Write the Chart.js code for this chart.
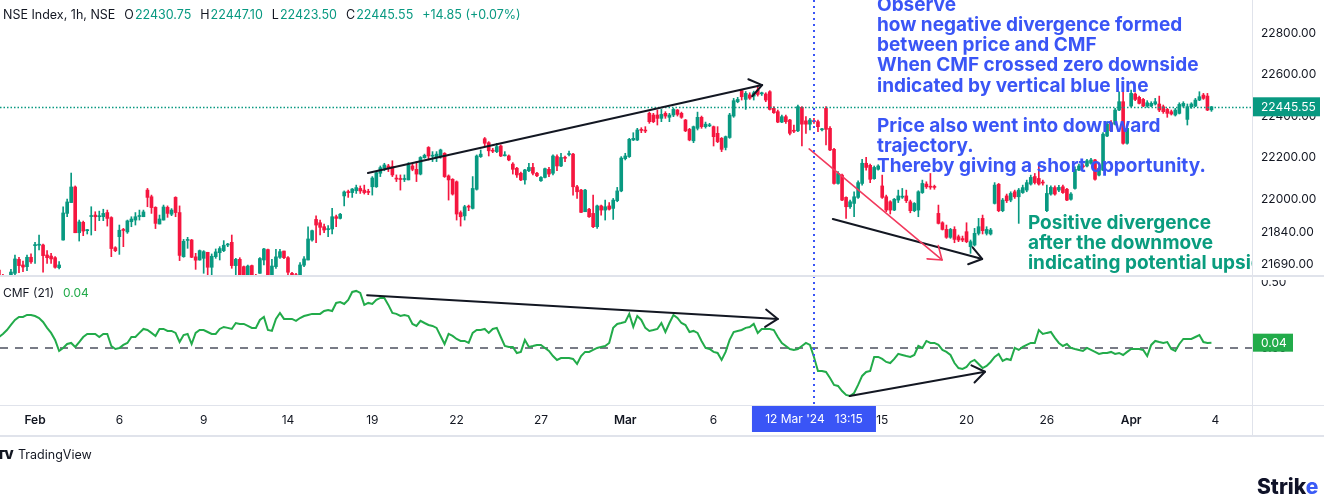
<!DOCTYPE html>
<html><head><meta charset="utf-8">
<script src="https://cdn.jsdelivr.net/npm/chart.js@4.4.1/dist/chart.umd.min.js"></script>
<style>
html,body{margin:0;padding:0;background:#fff;}
#wrap{position:relative;width:1324px;height:499px;overflow:hidden;font-family:Inter,Roboto,"DejaVu Sans",sans-serif;color:#131722;}
canvas{position:absolute;left:0;top:0;}
.t{position:absolute;font-size:12px;line-height:16px;white-space:pre;}
.g{color:#089981}
.cg{color:#22ab4a}
.hdr{font-size:12.5px}
.hdr span{margin-left:9px}
.hdr span.v{margin-left:1px}
</style></head>
<body><div id="wrap"><canvas id="c" width="1324" height="499"></canvas>
<div class="t hdr" style="left:3px;top:7px">NSE Index, 1h, NSE<span style="margin-left:9px">O</span><span class="v g">22430.75</span><span>H</span><span class="v g">22447.10</span><span>L</span><span class="v g">22423.50</span><span>C</span><span class="v g">22445.55</span><span class="g">+14.85 (+0.07%)</span></div>
<div class="t" style="left:3px;top:285px">CMF (21)<span class="cg" style="margin-left:9px">0.04</span></div>
<span class="t" style="left:-3px;top:447px;font-weight:900;font-size:12px;letter-spacing:-1px">TV</span>
<span class="t" style="left:18px;top:447px;font-size:12.5px">TradingView</span>
<span class="t" style="left:1257px;top:475px;font-size:21px;line-height:24px;font-weight:800;color:#0f1228">Strik<span style="color:#3b5bf6">e</span></span>
</div>
<script>
// ---------- data (hourly candles, Jan 30 – Apr 4 2024) ----------
const opens = [
21661,21632,21610,21632,21645,21712,21685,21677,21722,21778,
21780,21781,21733,21728,21720,21672,21805,21933,21985,22060,
21840,21890,21850,21918,21925,21917,21917,21937,21913,21768,
21821,21855,21844,21893,21901,21918,21917,22045,22013,21962,
21882,21901,21962,21929,22010,21937,21725,21803,21805,21724,
21709,21717,21746,21674,21725,21744,21754,21781,21794,21682,
21712,21677,21632,21682,21632,21645,21709,21759,21637,21677,
21722,21752,21720,21645,21638,21632,21684,21709,21805,21904,
21888,21869,21855,21858,21917,21909,22017,22036,22033,22042,
22053,22045,22037,22061,22061,22126,22150,22161,22158,22101,
22100,22096,22094,22161,22145,22122,22201,22250,22208,22202,
22206,22222,22113,22097,22085,21937,21921,21967,21957,22049,
22206,22292,22273,22236,22230,22257,22210,22209,22170,22150,
22126,22094,22138,22154,22126,22090,22106,22145,22126,22206,
22161,22201,22216,22218,22061,22045,21941,21953,21933,21869,
21969,21949,21969,21957,21994,22041,22196,22206,22286,22286,
22336,22333,22414,22406,22406,22390,22414,22395,22406,22430,
22414,22382,22337,22282,22342,22395,22350,22354,22350,22318,
22294,22250,22298,22401,22470,22523,22481,22503,22497,22526,
22508,22507,22518,22438,22422,22372,22398,22382,22332,22330,
22443,22378,22362,22379,22374,22335,22438,22342,22241,22077,
22117,22010,21965,21981,22010,22077,22174,22164,22100,22145,
22065,22013,21989,21949,21997,22011,22017,21989,21946,21949,
22033,22074,22063,22062,21933,21888,21856,21818,21856,21821,
21812,21845,21773,21781,21837,21909,21837,21834,21981,22073,
21946,22017,21997,22037,22013,22033,22045,22074,22110,22101,
22083,21946,22026,22057,22045,22061,22049,22001,22053,22141,
22160,22161,22174,22190,22117,22141,22305,22369,22362,22430,
22470,22270,22449,22507,22491,22481,22449,22449,22459,22459,
22446,22433,22422,22406,22414,22449,22385,22446,22449,22478,
22502,22497,22430.75];
const highs = [
21665,21640,21635,21664,21733,21722,21704,21733,21738,21794,
21829,21786,21754,21741,21725,21701,21964,22002,22127,22065,
21901,21896,21856,21965,21941,21944,21953,21949,21917,21773,
21877,21861,21901,21917,21937,21949,21949,22053,22021,21965,
21925,21973,21969,21956,22013,21969,21808,21818,21808,21741,
21757,21754,21746,21738,21762,21773,21802,21789,21829,21717,
21720,21680,21685,21685,21640,21720,21765,21762,21712,21760,
21760,21752,21725,21650,21645,21696,21725,21869,21853,21921,
21901,21882,21874,21957,21925,21933,22041,22045,22053,22069,
22065,22069,22049,22110,22134,22161,22174,22169,22186,22118,
22118,22118,22177,22169,22182,22206,22218,22254,22230,22230,
22242,22225,22118,22100,22089,21945,21972,21973,22110,22214,
22238,22298,22278,22246,22270,22262,22230,22214,22177,22154,
22132,22145,22174,22174,22130,22110,22151,22154,22214,22215,
22222,22209,22233,22222,22068,22049,22049,21957,22021,21973,
21973,21997,21985,22005,22058,22206,22222,22294,22321,22342,
22345,22350,22420,22414,22430,22433,22422,22414,22438,22433,
22420,22385,22342,22353,22420,22401,22372,22366,22353,22350,
22298,22305,22414,22486,22491,22529,22519,22513,22521,22542,
22516,22513,22523,22446,22430,22406,22406,22385,22358,22454,
22446,22398,22390,22390,22382,22342,22446,22350,22246,22134,
22122,22013,21997,22037,22090,22193,22202,22170,22161,22167,
22117,22021,21994,22005,22045,22053,22045,21997,21985,22042,
22093,22085,22125,22069,21973,21893,21877,21861,21869,21829,
21824,21888,21805,21861,21909,21925,21869,21861,22081,22077,
22005,22026,22037,22045,22053,22069,22093,22117,22125,22174,
22093,22069,22065,22065,22068,22069,22053,22033,22157,22170,
22170,22193,22198,22193,22157,22321,22374,22379,22438,22518,
22518,22350,22526,22513,22497,22486,22475,22470,22486,22497,
22454,22438,22430,22438,22465,22470,22459,22465,22486,22518,
22510,22510,22447.10];
const lows = [
21620,21600,21595,21620,21637,21648,21653,21658,21693,21693,
21757,21651,21693,21693,21670,21666,21804,21917,21985,21840,
21800,21826,21834,21829,21850,21898,21898,21872,21725,21749,
21736,21773,21837,21869,21877,21901,21917,21965,21933,21860,
21882,21901,21914,21922,21917,21706,21722,21765,21720,21664,
21708,21645,21634,21637,21717,21709,21749,21773,21669,21632,
21620,21615,21615,21615,21600,21645,21685,21635,21635,21669,
21717,21715,21620,21610,21600,21615,21677,21709,21799,21792,
21829,21840,21821,21834,21869,21906,21969,22010,22010,22029,
22029,22026,22023,22021,22058,22110,22138,22134,22110,22086,
22045,22086,22094,22138,22086,22118,22198,22190,22182,22182,
22198,22106,21997,22021,21901,21872,21901,21946,21954,22045,
22202,22257,22209,22225,22225,22206,22209,22186,22122,22106,
22090,22074,22134,22118,22110,22087,22103,22110,22118,22138,
22158,22182,22209,22021,22005,21937,21941,21914,21864,21861,
21925,21901,21949,21904,21989,22037,22190,22202,22283,22283,
22321,22321,22366,22369,22358,22374,22390,22374,22398,22401,
22390,22326,22282,22273,22334,22342,22343,22350,22257,22273,
22230,22238,22294,22395,22465,22478,22433,22481,22478,22497,
22500,22470,22430,22414,22369,22369,22366,22310,22321,22326,
22257,22318,22334,22366,22326,22330,22262,22234,22074,22074,
21994,21909,21957,21917,22005,22069,22141,22081,22097,22141,
22005,21941,21930,21946,21985,22005,21985,21936,21941,21917,
22029,22053,22049,22049,21882,21853,21813,21813,21792,21797,
21797,21792,21741,21776,21829,21834,21829,21829,21978,21941,
21941,21985,21989,22005,21885,22029,22037,22069,22074,22069,
22069,21941,22021,22021,22037,22029,21994,21997,22049,22138,
22150,22157,22170,22093,22113,22138,22302,22326,22358,22427,
22266,22266,22446,22475,22459,22446,22443,22446,22454,22422,
22414,22395,22406,22401,22411,22443,22358,22438,22446,22475,
22481,22427,22423.50];
const closes = [
21632,21610,21625,21651,21714,21682,21675,21722,21700,21783,
21783,21730,21720,21714,21674,21685,21935,21988,22060,21840,
21892,21848,21854,21921,21917,21921,21933,21909,21764,21754,
21852,21851,21897,21906,21917,21921,21940,22010,21961,21885,
21906,21964,21933,21949,21937,21731,21799,21806,21722,21708,
21754,21749,21674,21727,21748,21764,21780,21784,21682,21712,
21629,21629,21680,21632,21620,21716,21762,21637,21680,21724,
21749,21720,21650,21638,21615,21685,21714,21810,21850,21877,
21866,21853,21858,21917,21909,21929,22036,22033,22050,22057,
22041,22033,22034,22103,22129,22153,22166,22153,22118,22098,
22096,22099,22166,22145,22122,22202,22212,22209,22211,22218,
22238,22110,22094,22026,21930,21917,21965,21963,22053,22209,
22218,22270,22234,22232,22254,22209,22214,22190,22145,22118,
22094,22142,22154,22126,22114,22106,22148,22122,22209,22161,
22202,22198,22219,22061,22037,21938,22045,21917,21869,21969,
21949,21965,21953,21997,22041,22199,22209,22289,22294,22334,
22332,22329,22374,22374,22390,22409,22401,22406,22433,22409,
22395,22330,22286,22350,22395,22350,22362,22357,22302,22278,
22241,22302,22406,22475,22481,22494,22510,22487,22513,22505,
22511,22478,22433,22417,22372,22398,22374,22318,22328,22446,
22362,22362,22382,22374,22350,22338,22337,22238,22077,22125,
21997,21965,21989,22013,22081,22174,22154,22097,22154,22161,
22010,21949,21949,22001,22017,22014,21994,21946,21981,22037,
22077,22061,22059,22058,21885,21856,21818,21856,21808,21805,
21805,21797,21797,21837,21869,21850,21856,21853,22069,21946,
21997,21994,22029,22013,22045,22057,22081,22106,22081,22074,
22079,22029,22058,22026,22058,22033,21997,22026,22145,22161,
22157,22186,22190,22097,22150,22314,22362,22330,22430,22470,
22270,22342,22510,22481,22462,22449,22465,22462,22470,22430,
22422,22414,22411,22430,22457,22462,22446,22459,22478,22494,
22486,22430,22445.55];
const cmf = [
.083,.106,.136,.174,.212,.235,.235,.25,.25,.242,
.227,.197,.152,.114,.061,-.023,0,.03,.038,.008,
.045,.083,.106,.106,.106,.083,.106,.106,.015,-.008,
0,.023,.038,.083,.083,.114,.144,.136,.114,.091,
.144,.144,.129,.129,.114,.045,.098,.106,.03,.114,
.136,.136,.121,.106,.106,.144,.159,.152,.144,.189,
.182,.182,.167,.152,.152,.212,.235,.136,.129,.22,
.265,.22,.22,.22,.205,.227,.242,.25,.258,.258,
.258,.28,.288,.28,.341,.348,.333,.364,.424,.432,
.417,.326,.341,.333,.364,.379,.379,.326,.265,.258,
.242,.25,.242,.182,.167,.205,.189,.174,.167,.152,
.091,.03,.106,.091,.068,.053,.053,.038,.114,.136,
.136,.144,.114,.144,.152,.083,.015,.008,.008,-.038,
-.03,.061,.008,.015,.023,.023,0,-.023,-.061,-.091,
-.076,-.076,-.076,-.083,-.121,-.061,-.03,-.03,-.015,0,
.008,.015,.038,.152,.182,.189,.197,.258,.159,.242,
.212,.152,.129,.136,.144,.189,.121,.189,.25,.227,
.189,.174,.121,.129,.114,.053,0,-.008,-.03,-.038,
-.091,-.03,.061,.121,.129,.136,.152,.159,.182,.114,
.144,.144,.144,.136,.083,.038,.015,-.008,-.015,-.008,
.015,.038,.023,-.068,-.174,-.174,-.182,-.227,-.28,-.288,
-.326,-.356,-.364,-.341,-.28,-.212,-.182,-.174,-.068,-.068,
-.083,-.106,-.114,-.083,-.045,-.053,-.061,-.068,-.053,.015,
0,.053,.038,.038,.023,-.015,-.03,-.053,-.114,-.152,
-.159,-.144,-.106,-.091,-.121,-.152,-.136,-.106,-.068,-.045,
-.098,-.083,-.091,0,-.015,.008,.023,.038,.038,.136,
.106,.114,.121,.076,.038,.015,.03,0,-.008,-.015,
-.023,0,-.015,-.03,-.045,-.038,-.038,-.03,-.045,-.038,
-.053,-.03,-.008,-.008,-.008,-.015,-.061,.023,.053,.045,
.038,.045,-.008,-.023,.03,.068,.068,.068,.083,.098,
.045,.038,.04];
const tickPositions = [9,30,51,72,93,114,135,156,178,220,241,261,282,303];
const tickLabels = ['Feb','6','9','14','19','22','27','Mar','6','15','20','26','Apr','4'];
const monthLabels = ['Feb','Mar','Apr'];
const priceTicks = [21690,21840,22000,22200,22400,22600,22800];
const cmfTicks = [0.5, 0];
const lastPrice = 22445.55;
const lastCmf = 0.04;
const crossIndex = 203;
const crossLabel = "12 Mar '24   13:15";
// annotations in data coordinates: [candle index, value]
const priceArrows = [
  {from:[91.9,22127], to:[190.1,22550], color:'#131722'},
  {from:[207.7,21906], to:[244.9,21714], color:'#131722'},
  {from:[201.8,22243], to:[234.9,21709], color:'#f23a5e'}
];
const cmfArrows = [
  {from:[91.7,0.40], to:[194,0.22], color:'#131722'},
  {from:[211.9,-0.364], to:[245.6,-0.18], color:'#131722'}
];
const noteBlue = ["Observe","how negative divergence formed","between price and CMF","When CMF crossed zero downside","indicated by vertical blue line","","Price also went into downward","trajectory.","Thereby giving a short opportunity."];
const noteBlueAt = [218.7, 22932];
const noteGreen = ["Positive divergence","after the downmove","indicating potential upside"];
const noteGreenAt = [256.3, 21887];

// ---------- chart ----------
const UP = '#089981', DOWN = '#f5163f', CMFC = '#22ab4a', BLUE = '#3a55f6';
const FONT = 'Inter, Roboto, "DejaVu Sans", sans-serif';
const idx = closes.map((_, i) => i);
const colors = idx.map(i => closes[i] >= opens[i] ? UP : DOWN);

function arrow(ctx, x1, y1, x2, y2, color, w) {
  ctx.strokeStyle = color; ctx.lineWidth = w; ctx.lineCap = 'round'; ctx.lineJoin = 'round';
  ctx.beginPath(); ctx.moveTo(x1, y1); ctx.lineTo(x2, y2); ctx.stroke();
  const a = Math.atan2(y2 - y1, x2 - x1), L = 15, s = 0.62;
  ctx.beginPath();
  ctx.moveTo(x2 - L * Math.cos(a - s), y2 - L * Math.sin(a - s));
  ctx.lineTo(x2, y2);
  ctx.lineTo(x2 - L * Math.cos(a + s), y2 - L * Math.sin(a + s));
  ctx.stroke();
}
function clipTo(ctx, l, t, r, b) { ctx.save(); ctx.beginPath(); ctx.rect(l, t, r - l, b - t); ctx.clip(); }
function noPad(s) { s.paddingTop = 0; s.paddingBottom = 0; s.paddingLeft = 0; s.paddingRight = 0; }

const overlay = {
  id: 'overlay',
  beforeDatasetDraw(chart, args) {
    const ys = chart.scales[args.meta.yAxisID], a = chart.chartArea;
    clipTo(chart.ctx, a.left, ys.top, a.right, ys.bottom);
  },
  afterDatasetDraw(chart) { chart.ctx.restore(); },
  beforeDatasetsDraw(chart) {
    const {ctx, chartArea: a, scales: {y2}} = chart;
    ctx.save();
    ctx.strokeStyle = '#787b86'; ctx.lineWidth = 2; ctx.setLineDash([8, 7]);
    const zy = Math.round(y2.getPixelForValue(0));
    ctx.beginPath(); ctx.moveTo(a.left, zy); ctx.lineTo(a.right, zy); ctx.stroke();
    ctx.restore();
  },
  afterDatasetsDraw(chart) {
    const {ctx, chartArea: a, scales: {x, y, y2}} = chart;
    // price panel overlays
    clipTo(ctx, a.left, y.top, a.right, y.bottom);
    const ly = Math.round(y.getPixelForValue(lastPrice)) + 0.5;
    ctx.strokeStyle = UP; ctx.lineWidth = 1.3; ctx.setLineDash([1.5, 2]);
    ctx.beginPath(); ctx.moveTo(a.left, ly); ctx.lineTo(a.right, ly); ctx.stroke();
    ctx.setLineDash([]);
    priceArrows.forEach(p => arrow(ctx, x.getPixelForValue(p.from[0]), y.getPixelForValue(p.from[1]),
      x.getPixelForValue(p.to[0]), y.getPixelForValue(p.to[1]), p.color, p.color === '#131722' ? 2 : 1.6));
    ctx.font = '700 19px ' + FONT; ctx.textBaseline = 'middle'; ctx.textAlign = 'left';
    ctx.fillStyle = BLUE;
    let bx = x.getPixelForValue(noteBlueAt[0]), by = y.getPixelForValue(noteBlueAt[1]);
    noteBlue.forEach((s, k) => ctx.fillText(s, bx, by + k * 20.05));
    ctx.fillStyle = '#0a9c7e';
    let gx = x.getPixelForValue(noteGreenAt[0]), gy = y.getPixelForValue(noteGreenAt[1]);
    noteGreen.forEach((s, k) => ctx.fillText(s, gx, gy + k * 20));
    ctx.restore();
    // cmf panel arrows
    clipTo(ctx, a.left, y2.top, a.right, y2.bottom);
    cmfArrows.forEach(p => arrow(ctx, x.getPixelForValue(p.from[0]), y2.getPixelForValue(p.from[1]),
      x.getPixelForValue(p.to[0]), y2.getPixelForValue(p.to[1]), p.color, 2));
    ctx.restore();
    // vertical blue dotted line
    ctx.save();
    const vx = Math.round(x.getPixelForValue(crossIndex));
    ctx.strokeStyle = BLUE; ctx.lineWidth = 2; ctx.setLineDash([2, 4]);
    ctx.beginPath(); ctx.moveTo(vx, a.top); ctx.lineTo(vx, a.bottom); ctx.stroke();
    ctx.restore();
  },
  afterDraw(chart) {
    const {ctx, chartArea: a, scales: {x, y, y2}} = chart;
    ctx.save();
    // mask top of cmf axis label (clipped by the pane edge)
    ctx.fillStyle = '#fff'; ctx.fillRect(a.right + 1, Math.round(y.bottom) - 5, 80, 9);
    // separators
    ctx.fillStyle = '#e0e3eb';
    ctx.fillRect(0, Math.round(y.bottom) - 1, chart.width, 2);
    ctx.fillRect(0, Math.round(x.top), chart.width, 1);
    ctx.fillRect(0, Math.round(x.bottom), chart.width, 2);
    ctx.fillRect(Math.round(a.right), 0, 1, Math.round(x.bottom));
    // last price tag
    const ly = y.getPixelForValue(lastPrice);
    ctx.fillStyle = UP; ctx.fillRect(a.right + 1, ly - 9.5, 67, 19);
    ctx.fillStyle = '#fff'; ctx.font = '12px ' + FONT; ctx.textBaseline = 'middle'; ctx.textAlign = 'left';
    ctx.fillText(lastPrice.toFixed(2), a.right + 9, ly + 0.5);
    // cmf tag
    const cy = y2.getPixelForValue(lastCmf);
    ctx.fillStyle = CMFC; ctx.fillRect(a.right + 1, cy - 9, 40, 18);
    ctx.fillStyle = '#fff'; ctx.fillText(lastCmf.toFixed(2), a.right + 9, cy + 0.5);
    // date label on time axis
    const vx = x.getPixelForValue(crossIndex);
    ctx.fillStyle = BLUE; ctx.fillRect(vx - 62, x.top + 1, 124, 26);
    ctx.fillStyle = '#fff'; ctx.textAlign = 'center';
    ctx.fillText(crossLabel, vx, x.top + 14.5);
    ctx.restore();
  }
};

new Chart(document.getElementById('c'), {
  type: 'bar',
  data: {
    datasets: [
      {type: 'bar', label: 'wick', data: idx.map(i => ({x: i, y: [lows[i], highs[i]]})),
       backgroundColor: colors, barThickness: 1, grouped: false, yAxisID: 'y', xAxisID: 'x', order: 2},
      {type: 'bar', label: 'body', data: idx.map(i => ({x: i, y: [opens[i], closes[i]]})),
       backgroundColor: colors, barThickness: 3, minBarLength: 1, grouped: false, yAxisID: 'y', xAxisID: 'x', order: 1},
      {type: 'line', label: 'CMF', data: idx.map(i => ({x: i, y: cmf[i]})),
       borderColor: CMFC, borderWidth: 2, pointRadius: 0, tension: 0, yAxisID: 'y2', xAxisID: 'x', order: 0}
    ]
  },
  options: {
    responsive: false, animation: false, devicePixelRatio: 1,
    layout: {padding: {left: 0, right: 0, top: 0, bottom: 64}},
    plugins: {legend: {display: false}, tooltip: {enabled: false}},
    scales: {
      x: {
        type: 'linear', position: 'bottom', min: 0.274, max: 312.1, offset: false,
        grid: {display: false, drawTicks: false}, border: {display: false},
        afterBuildTicks: s => { s.ticks = tickPositions.map(v => ({value: v})); },
        afterFit: s => { s.height = 30; noPad(s); },
        ticks: {
          autoSkip: false, maxRotation: 0, minRotation: 0, padding: 8, color: '#131722',
          font: ctx => ({family: FONT, size: 12, weight: monthLabels.includes(tickLabels[tickPositions.indexOf(ctx.tick && ctx.tick.value)]) ? '600' : '400'}),
          callback: v => { const k = tickPositions.indexOf(v); return k >= 0 ? tickLabels[k] : ''; }
        }
      },
      y: {
        type: 'linear', position: 'right', stack: 'p', stackWeight: 276, min: 21632, max: 22959,
        grid: {display: false, drawTicks: false}, border: {display: false},
        afterBuildTicks: s => { s.ticks = priceTicks.map(v => ({value: v})); },
        afterFit: s => { s.width = 72; noPad(s); },
        ticks: {autoSkip: false, padding: 9, color: '#131722', font: {family: FONT, size: 12}, callback: v => Number(v).toFixed(2)}
      },
      y2: {
        type: 'linear', position: 'right', stack: 'p', stackWeight: 129, min: -0.432, max: 0.545,
        grid: {display: false, drawTicks: false}, border: {display: false},
        afterBuildTicks: s => { s.ticks = cmfTicks.map(v => ({value: v})); },
        afterFit: s => { s.width = 72; noPad(s); },
        ticks: {autoSkip: false, padding: 9, color: '#131722', font: {family: FONT, size: 12}, callback: v => Number(v).toFixed(2)}
      }
    }
  },
  plugins: [overlay]
});
</script>
</body></html>
